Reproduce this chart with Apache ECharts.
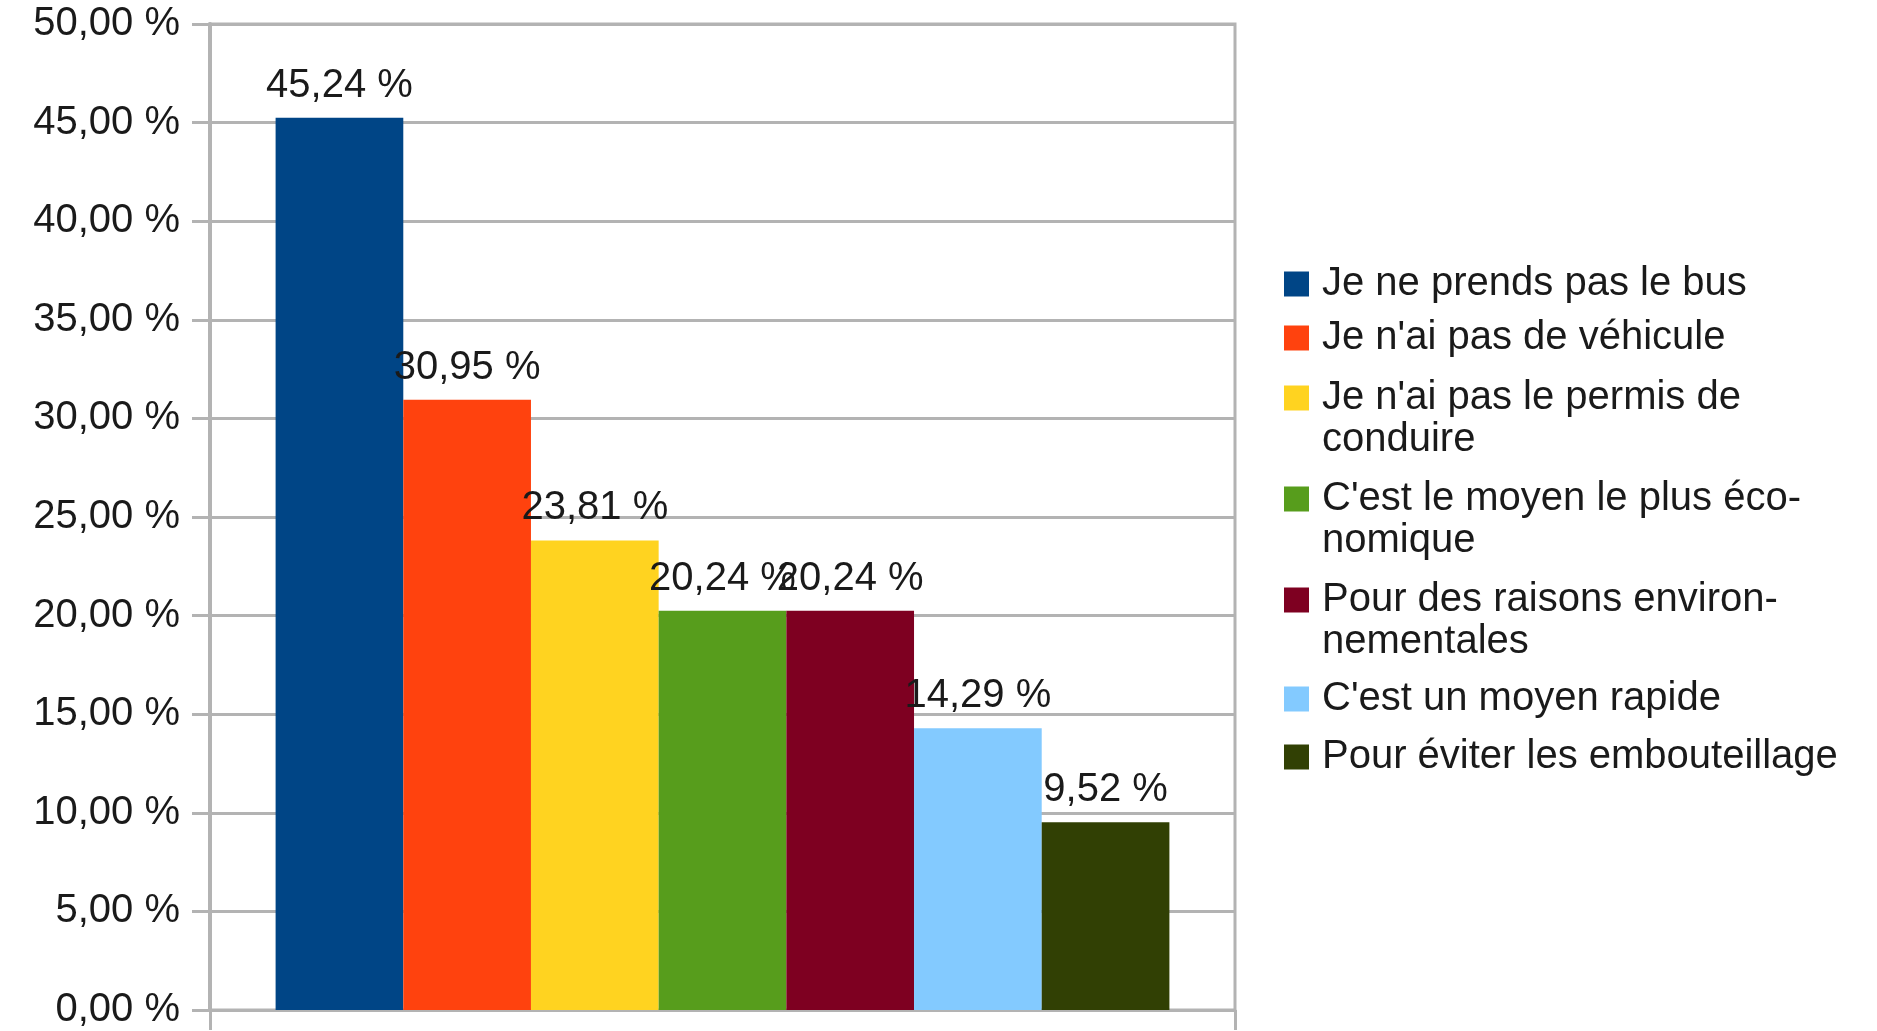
<!DOCTYPE html>
<html>
<head>
<meta charset="utf-8">
<title>Raisons</title>
<script src="https://cdn.jsdelivr.net/npm/echarts@6/dist/echarts.min.js"></script>
<style>
  html, body { margin: 0; padding: 0; background: #fff; }
  #main { width: 1877px; height: 1031px; }
</style>
</head>
<body>
<div id="main"></div>
<script>
  // réponses (texte de la légende, avec les coupures comme sur l'image)
  var reponses = [
    'Je ne prends pas le bus',
    "Je n'ai pas de véhicule",
    "Je n'ai pas le permis de\nconduire",
    "C'est le moyen le plus éco-\nnomique",
    'Pour des raisons environ-\nnementales',
    "C'est un moyen rapide",
    'Pour éviter les embouteillage'
  ];
  var pourcentages = [45.24, 30.95, 23.81, 20.24, 20.24, 14.29, 9.52];
  var couleurs = ['#004586', '#ff420e', '#ffd320', '#579d1c', '#7e0021', '#83caff', '#314004'];
  var yMin = 0, yMax = 50, yPas = 5;

  var police = 'Liberation Sans';
  var gris = '#b3b3b3';
  var noir = '#1a1a1a';

  function fmt(v) {
    return v.toFixed(2).replace('.', ',') + ' %';
  }

  var series = [];
  var legends = [];
  // centre de la première ligne de chaque entrée de légende
  var legendY = [284, 338, 398, 499, 600, 699, 757];

  for (var i = 0; i < reponses.length; i++) {
    series.push({
      name: reponses[i],
      type: 'bar',
      data: [pourcentages[i]],
      barGap: '0%',
      barCategoryGap: '12.8%',
      itemStyle: { color: couleurs[i] },
      label: {
        show: true,
        position: 'top',
        distance: 12,
        fontFamily: police,
        fontSize: 40,
        color: noir,
        formatter: function (p) { return fmt(p.value); }
      }
    });
    var deuxLignes = reponses[i].indexOf('\n') >= 0;
    legends.push({
      data: [reponses[i]],
      left: 1284,
      top: deuxLignes ? legendY[i] - 63 : legendY[i] - 21,
      orient: 'vertical',
      padding: 0,
      icon: 'rect',
      itemWidth: 25,
      itemHeight: 25,
      // ligne vide devant : le carré reste en face de la première ligne
      formatter: deuxLignes ? function (name) { return ' \n' + name; } : '{name}',
      textStyle: {
        fontFamily: police,
        fontSize: 40,
        color: noir,
        lineHeight: 42,
        padding: [0, 0, 0, 8]
      }
    });
  }

  var chart = echarts.init(document.getElementById('main'));
  chart.setOption({
    animation: false,
    backgroundColor: '#fff',
    legend: legends,
    grid: {
      left: 210,
      right: 642,
      top: 24,
      bottom: 21,
      show: true,
      borderColor: gris,
      borderWidth: 3,
      containLabel: false,
      outerBoundsMode: 'none'
    },
    xAxis: {
      type: 'category',
      data: [''],
      axisLine: { show: true, lineStyle: { color: gris, width: 3 } },
      axisTick: { show: true, length: 20, lineStyle: { color: gris, width: 3 } },
      axisLabel: { show: false },
      splitLine: { show: false }
    },
    yAxis: {
      type: 'value',
      min: yMin,
      max: yMax,
      interval: yPas,
      axisLine: { show: true, lineStyle: { color: gris, width: 4 } },
      axisTick: { show: true, length: 18, lineStyle: { color: gris, width: 3 } },
      axisLabel: {
        margin: 30,
        fontFamily: police,
        fontSize: 40,
        color: noir,
        formatter: function (v) { return fmt(v); }
      },
      splitLine: { show: true, lineStyle: { color: gris, width: 3 } }
    },
    series: series
  });
</script>
</body>
</html>
